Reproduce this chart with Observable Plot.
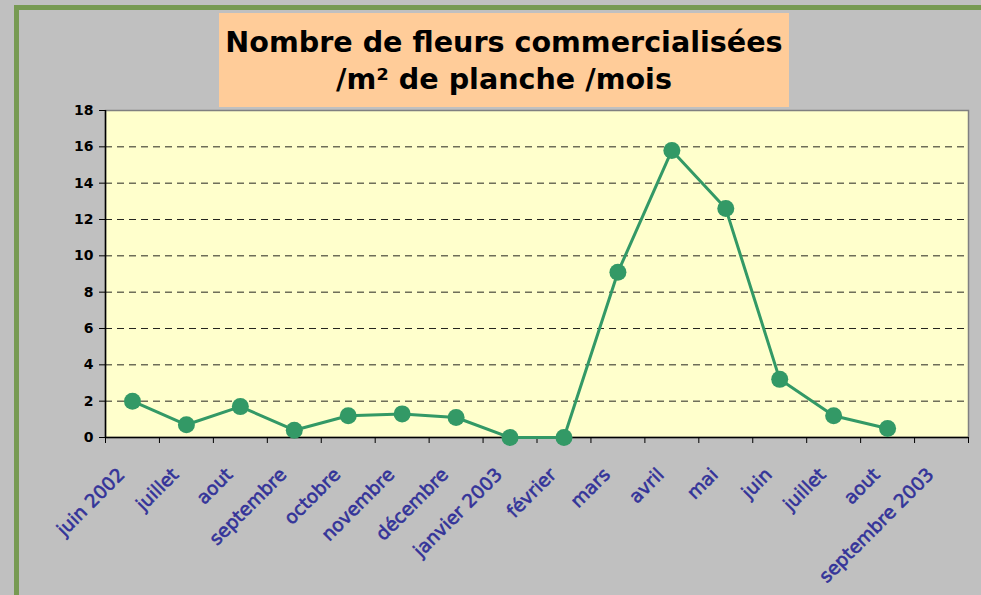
<!DOCTYPE html>
<html><head><meta charset="utf-8">
<script src="https://cdn.jsdelivr.net/npm/d3@7"></script>
<script src="https://cdn.jsdelivr.net/npm/@observablehq/plot@0.6"></script>
<style>
html,body{margin:0;padding:0;background:#C0C0C0;overflow:hidden;}
#wrap{position:relative;width:981px;height:595px;overflow:hidden;background:#C0C0C0;}
#gtop{position:absolute;left:14px;top:5px;width:967px;height:5px;background:#779A52;}
#gleft{position:absolute;left:14px;top:5px;width:5px;height:590px;background:#779A52;}
#title{position:absolute;left:219px;top:13px;width:570px;height:94px;background:#FFCC99;
  font-family:"DejaVu Sans",Verdana,sans-serif;font-weight:bold;font-size:28.6px;line-height:37px;
  text-align:center;padding-top:11px;box-sizing:border-box;color:#000;z-index:2;}
#chart{position:absolute;left:0;top:0;z-index:1;}
</style></head>
<body>
<div id="wrap">
  <div id="gtop"></div>
  <div id="gleft"></div>
  <div id="chart"></div>
  <div id="title">Nombre de fleurs commercialisées<br>/m² de planche /mois</div>
</div>
<script>
const months = ["juin 2002","juillet","aout","septembre","octobre","novembre","décembre","janvier 2003","février","mars","avril","mai","juin","juillet","aout","septembre 2003"];
const values = [2.0,0.7,1.7,0.4,1.2,1.3,1.1,0,0,9.1,15.8,12.6,3.2,1.2,0.5,null];
const yTicks = [0,2,4,6,8,10,12,14,16,18];
const gridLines = [2,4,6,8,10,12,14,16];

const data = months.map((m,i)=>({i, m, v: values[i]}));
const boundaries = d3.range(months.length + 1);

const chart = Plot.plot({
  width: 981,
  height: 595,
  marginLeft: 105,
  marginRight: 13,
  marginTop: 110,
  marginBottom: 158,
  style: {background: "transparent", overflow: "visible"},
  x: {domain: [0, months.length]},
  y: {domain: [0, 18]},
  marks: [
    Plot.frame({fill: "#FFFFCC", stroke: "#808080", strokeWidth: 1.5}),
    Plot.ruleY(gridLines, {stroke: "#000", strokeWidth: 1, strokeDasharray: "7,5", strokeOpacity: 0.85}),
    Plot.ruleX([0], {stroke: "#000", strokeWidth: 1.5}),
    Plot.ruleY([0], {stroke: "#000", strokeWidth: 1.5}),
    Plot.axisY({ticks: yTicks, tickSize: 6, tickPadding: 6, label: null, color: "#000",
      fontSize: 14, fontWeight: "bold", fontFamily: "DejaVu Sans, Verdana, sans-serif"}),
    Plot.axisX({ticks: boundaries, tickSize: 6, tickFormat: () => "", label: null, color: "#000"}),
    Plot.text(data, {x: d => d.i + 0.5, frameAnchor: "bottom", text: "m", rotate: -45,
      textAnchor: "end", lineAnchor: "top", dx: -16, dy: 29, fill: "#333399",
      stroke: "#333399", strokeWidth: 0.6,
      fontSize: 18.5, fontFamily: "DejaVu Sans, Verdana, sans-serif"}),
    Plot.line(data, {x: d => d.i + 0.5, y: "v", stroke: "#339966", strokeWidth: 3}),
    Plot.dot(data.filter(d => d.v != null), {x: d => d.i + 0.5, y: "v", r: 8.5, fill: "#339966", stroke: "none"})
  ]
});
document.getElementById("chart").appendChild(chart);
</script>
</body></html>
